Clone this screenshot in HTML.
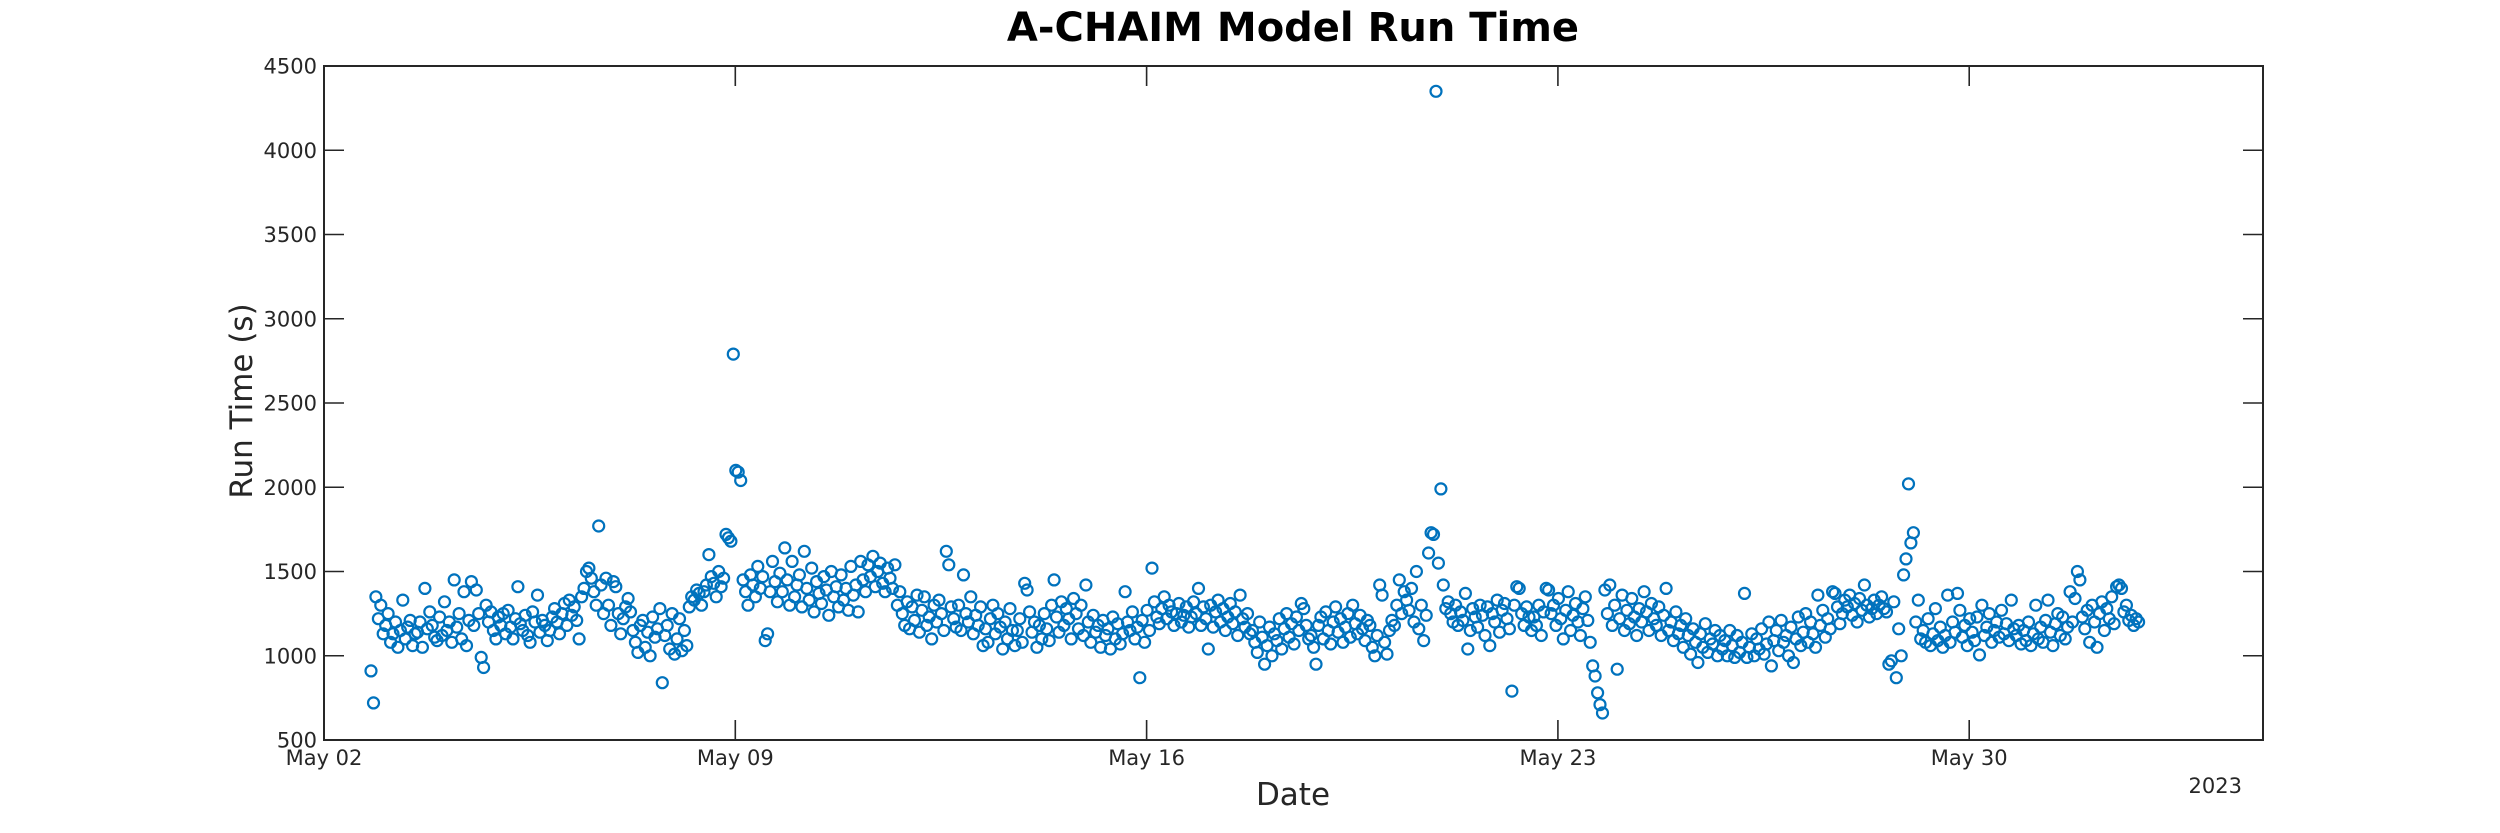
<!DOCTYPE html>
<html>
<head>
<meta charset="utf-8">
<style>
html,body{margin:0;padding:0;background:#fff;}
svg{display:block;}
text{font-family:"DejaVu Sans","Liberation Sans",sans-serif;fill:#262626;}
</style>
</head>
<body>
<svg id="chart" width="2500" height="833" viewBox="0 0 2500 833" xmlns="http://www.w3.org/2000/svg">
  <rect x="0" y="0" width="2500" height="833" fill="#fff"/>
  <text x="1293" y="41" text-anchor="middle" font-size="40" font-weight="bold" style="fill:#000">A-CHAIM Model Run Time</text>
  <g id="marks"></g>
  <g id="axes"></g>
  <text x="1293" y="805" text-anchor="middle" font-size="31">Date</text>
  <text x="0" y="0" transform="translate(252,401) rotate(-90)" text-anchor="middle" font-size="31">Run Time (s)</text>
  <text x="2242" y="793" text-anchor="end" font-size="21">2023</text>
</svg>
<script>
// Data: one run per hour starting May 02 + 0.8 day (days since May 02)
const startDay = 0.8;
const stepDay = 1/24;
const runTimes = [
910,720,1350,1220,1300,1130,1180,1250,1080,1130,1200,1050,1150,1330,1100,1170,1210,1060,1130,1140,1200,1050,1400,1160,
1260,1180,1110,1090,1230,1120,1320,1150,1200,1080,1450,1170,1250,1100,1380,1060,1210,1440,1180,1390,1250,990,930,1300,
1200,1260,1150,1100,1230,1180,1250,1130,1270,1170,1100,1220,1410,1190,1150,1240,1120,1080,1260,1200,1360,1140,1210,1180,
1090,1150,1230,1280,1200,1130,1250,1310,1180,1330,1240,1290,1210,1100,1350,1400,1500,1520,1460,1380,1300,1770,1420,1250,
1460,1300,1180,1440,1410,1250,1130,1220,1290,1340,1260,1150,1080,1020,1180,1210,1050,1140,1000,1230,1110,1160,1280,840,
1120,1180,1040,1250,1010,1100,1220,1030,1150,1060,1290,1350,1330,1390,1370,1300,1380,1420,1600,1470,1430,1350,1500,1410,
1460,1720,1700,1680,2790,2100,2090,2040,1450,1380,1300,1480,1420,1350,1530,1400,1470,1090,1130,1380,1560,1440,1320,1490,
1380,1640,1450,1300,1560,1350,1420,1480,1290,1620,1400,1330,1520,1260,1440,1370,1310,1470,1390,1240,1500,1350,1410,1290,
1480,1330,1400,1270,1530,1360,1420,1260,1560,1450,1380,1540,1470,1590,1410,1500,1550,1430,1380,1520,1460,1400,1540,1300,
1380,1250,1180,1320,1160,1290,1210,1360,1140,1270,1350,1180,1230,1100,1300,1200,1330,1250,1150,1620,1540,1290,1220,1170,
1300,1150,1480,1250,1200,1350,1130,1240,1180,1290,1060,1160,1080,1220,1300,1130,1250,1170,1040,1200,1100,1280,1150,1060,
1150,1220,1080,1430,1390,1260,1140,1200,1050,1180,1100,1250,1160,1090,1300,1450,1230,1140,1320,1180,1280,1220,1100,1340,
1250,1160,1300,1120,1420,1200,1080,1240,1140,1180,1050,1210,1120,1160,1040,1230,1100,1190,1070,1130,1380,1200,1150,1260,
1100,1170,870,1210,1080,1270,1150,1520,1320,1230,1190,1280,1350,1220,1300,1260,1180,1250,1310,1200,1240,1290,1170,1230,
1320,1250,1400,1180,1290,1220,1040,1300,1170,1260,1330,1200,1280,1150,1230,1310,1190,1260,1120,1360,1220,1170,1250,1130,
1150,1080,1020,1200,1110,950,1060,1170,1000,1130,1090,1220,1040,1160,1250,1110,1190,1070,1230,1150,1310,1280,1180,1100,
1120,1050,950,1180,1230,1100,1260,1150,1070,1200,1290,1140,1220,1080,1170,1250,1110,1300,1190,1130,1240,1160,1090,1210,
1180,1050,1000,1120,1420,1360,1080,1010,1150,1210,1180,1300,1450,1250,1380,1330,1270,1400,1200,1500,1160,1300,1090,1240,
1610,1730,1720,4350,1550,1990,1420,1280,1320,1250,1200,1300,1180,1260,1210,1370,1040,1150,1280,1230,1170,1300,1240,1120,
1290,1060,1250,1200,1330,1140,1270,1310,1220,1160,790,1300,1410,1400,1250,1180,1290,1230,1150,1230,1180,1300,1120,1260,
1400,1390,1250,1300,1180,1340,1220,1100,1270,1380,1150,1240,1310,1200,1120,1280,1350,1210,1080,940,880,780,710,660,
1390,1250,1420,1180,1300,920,1220,1360,1150,1270,1190,1340,1230,1120,1280,1200,1380,1260,1150,1310,1220,1180,1290,1120,
1240,1400,1150,1200,1090,1260,1130,1180,1050,1220,1120,1010,1160,1080,960,1130,1050,1190,1020,1100,1070,1150,1000,1120,
1040,1090,1000,1150,1060,990,1120,1020,1080,1370,990,1050,1130,1000,1100,1040,1160,1010,1070,1200,940,1090,1150,1030,
1210,1080,1120,1000,1170,960,1100,1230,1060,1140,1250,1080,1200,1130,1050,1360,1180,1270,1110,1220,1160,1380,1370,1290,
1190,1250,1330,1290,1360,1240,1310,1200,1340,1270,1420,1300,1230,1280,1330,1250,1300,1350,1280,1260,950,970,1320,870,
1160,1000,1480,1575,2020,1670,1730,1200,1330,1100,1150,1080,1220,1060,1130,1280,1090,1170,1050,1120,1360,1080,1200,1140,
1370,1270,1110,1180,1060,1220,1140,1090,1230,1005,1300,1120,1170,1250,1080,1150,1200,1110,1270,1130,1190,1090,1330,1160,
1120,1180,1070,1150,1090,1200,1060,1130,1300,1100,1170,1080,1210,1330,1140,1060,1190,1250,1120,1230,1100,1170,1380,1200,
1340,1500,1450,1230,1160,1270,1080,1300,1200,1050,1250,1320,1150,1280,1220,1350,1190,1410,1420,1400,1260,1300,1210,1240,
1180,1220,1200
];
const yTicks = [500,1000,1500,2000,2500,3000,3500,4000,4500];
const xTickDays = [0,7,14,21,28];
const xTickLabels = ["May 02","May 09","May 16","May 23","May 30"];

const L=324,R=2263,T=66,B=740;
const xMin=0,xMax=33,yMin=500,yMax=4500;
function xs(d){return L+(d-xMin)/(xMax-xMin)*(R-L);}
function ys(v){return B-(v-yMin)/(yMax-yMin)*(B-T);}
const NS="http://www.w3.org/2000/svg";
const marks=document.getElementById('marks');
const axes=document.getElementById('axes');

runTimes.forEach(function(v,i){
  const c=document.createElementNS(NS,'circle');
  c.setAttribute('cx',xs(startDay+i*stepDay).toFixed(1));
  c.setAttribute('cy',ys(v).toFixed(1));
  c.setAttribute('r','5.5');
  c.setAttribute('fill','none');
  c.setAttribute('stroke','#0072BD');
  c.setAttribute('stroke-width','2.2');
  
  
  marks.appendChild(c);
});

const box=document.createElementNS(NS,'rect');
box.setAttribute('x',L);box.setAttribute('y',T);
box.setAttribute('width',R-L);box.setAttribute('height',B-T);
box.setAttribute('fill','none');box.setAttribute('stroke','#262626');box.setAttribute('stroke-width','2');


axes.appendChild(box);

function line(x1,y1,x2,y2,name){
  const l=document.createElementNS(NS,'line');
  l.setAttribute('x1',x1);l.setAttribute('y1',y1);l.setAttribute('x2',x2);l.setAttribute('y2',y2);
  l.setAttribute('stroke','#262626');l.setAttribute('stroke-width','1.6');
  
  
  axes.appendChild(l);
}
function label(x,y,s,anchor,name){
  const t=document.createElementNS(NS,'text');
  t.setAttribute('x',x);t.setAttribute('y',y);t.setAttribute('text-anchor',anchor);
  t.setAttribute('font-size','21');
  t.textContent=s;
  
  
  axes.appendChild(t);
}
yTicks.forEach(function(v){
  const y=ys(v);
  if(v!==yMin&&v!==yMax){
    line(L,y,L+20,y,'y-tick');
    line(R,y,R-20,y,'y-tick-right');
  }
  label(L-7,y+7.5,String(v),'end','y-tick-label');
});
xTickDays.forEach(function(d,i){
  const x=xs(d);
  if(d!==xMin){
    line(x,B,x,B-20,'x-tick');
    line(x,T,x,T+20,'x-tick-top');
  }
  label(x,765,xTickLabels[i],'middle','x-tick-label');
});
</script>
</body>
</html>
